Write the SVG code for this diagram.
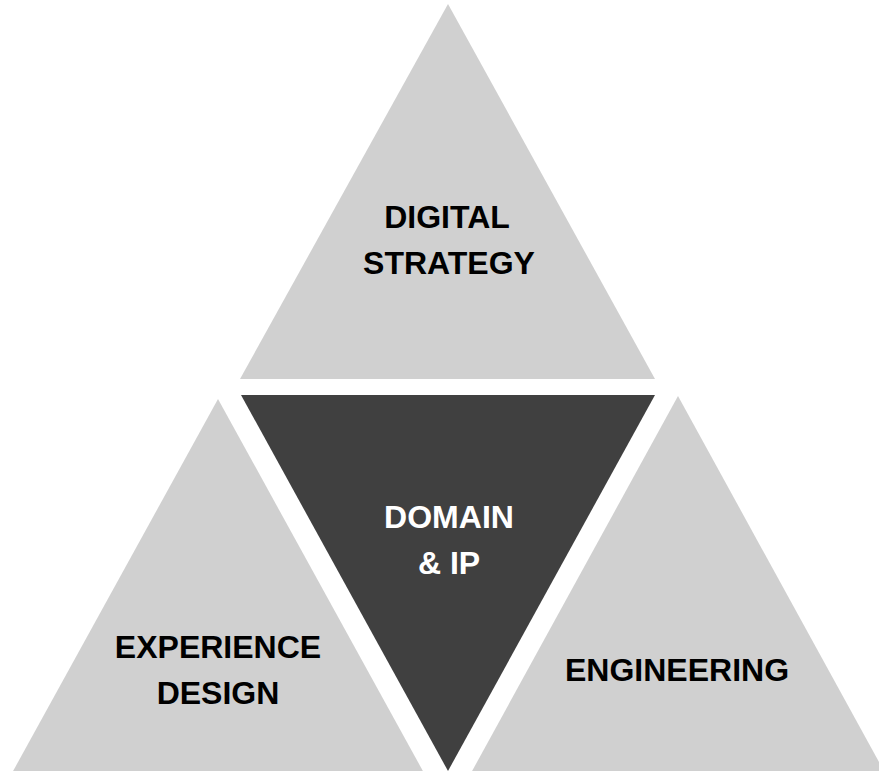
<svg xmlns="http://www.w3.org/2000/svg" width="879" height="771" viewBox="0 0 879 771">
<style>
.light{fill:#d0d0d0}
.dark{fill:#404040}
text{font-family:"Liberation Sans",Arial,sans-serif;font-weight:bold;font-size:32px;text-anchor:middle}
.b{fill:#000}
.w{fill:#fff}
</style>
<rect width="879" height="771" fill="#fff"/>
<g id="digital-strategy">
<polygon class="light" points="448,4 655,379 240,379"/>
<text class="b" x="447" y="228">DIGITAL</text>
<text class="b" x="449" y="274">STRATEGY</text>
</g>
<g id="domain-ip">
<polygon class="dark" points="241,395 655,395 448,771"/>
<text class="w" x="449" y="528">DOMAIN</text>
<text class="w" x="449" y="574">&amp; IP</text>
</g>
<g id="experience-design">
<polygon class="light" points="218,399 424,773 12,773"/>
<text class="b" x="218" y="658">EXPERIENCE</text>
<text class="b" x="218" y="704">DESIGN</text>
</g>
<g id="engineering">
<polygon class="light" points="678,396 885,773 471,773"/>
<text class="b" x="677" y="681">ENGINEERING</text>
</g>
<g id="connectors"></g>
</svg>
